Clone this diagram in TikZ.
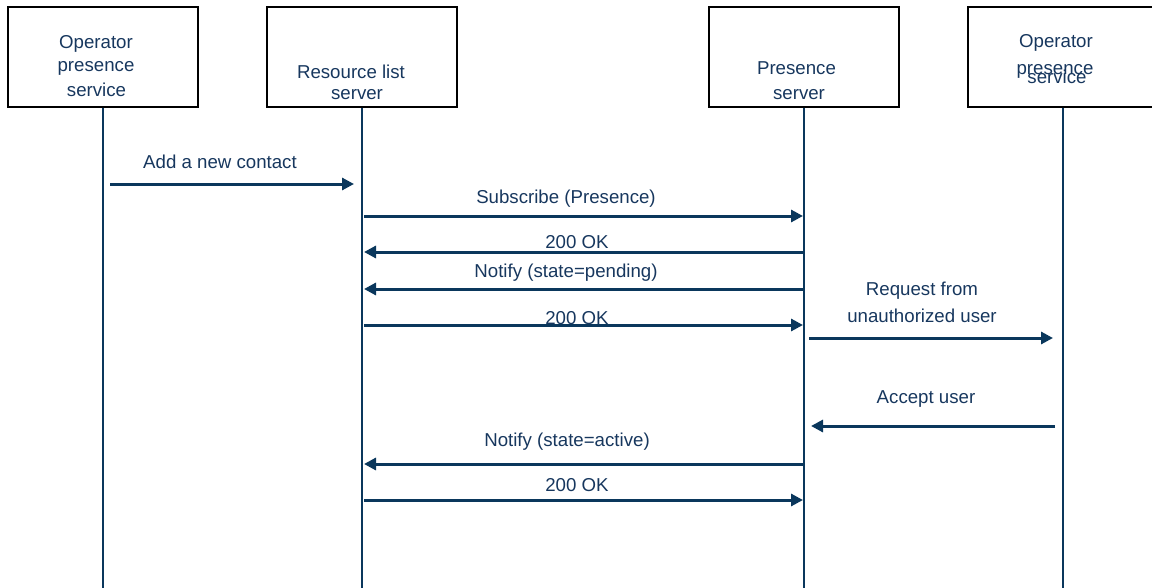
\documentclass[tikz,border=0pt]{standalone}
\usepackage{fontspec}
\setmainfont{Liberation Sans}
\usetikzlibrary{arrows.meta}
\definecolor{ink}{RGB}{23,55,94}
\definecolor{arrowink}{RGB}{10,55,92}
\tikzset{
  actorbox/.style={draw=black, line width=1pt, minimum width=142.5pt, minimum height=75pt, inner sep=0pt},
  lbl/.style={text=ink, font=\fontsize{14}{16}\selectfont, inner sep=0pt, anchor=base},
  msgarrow/.style={draw=arrowink, line width=2.25pt, -{Triangle[length=9pt,width=9pt]}},
  lifeline/.style={draw=arrowink, line width=1pt}
}
\begin{document}
\begin{tikzpicture}[x=0.75pt,y=-0.75pt]
\useasboundingbox (0,0) rectangle (1152,588);
\clip (0,0) rectangle (1152,588);
% actor boxes
\node[actorbox] (b1) at (103,57) {};
\node[actorbox] (b2) at (362,57) {};
\node[actorbox] (b3) at (804,57) {};
\node[actorbox] (b4) at (1063,57) {};
% box texts
\node[lbl] (t1a) at (96,49) {Operator};
\node[lbl] (t1b) at (96,72) {presence};
\node[lbl] (t1c) at (96.5,97) {service};
\node[lbl] (t2a) at (351,79) {Resource list};
\node[lbl] (t2b) at (357,100) {server};
\node[lbl] (t3a) at (796.5,75) {Presence};
\node[lbl] (t3b) at (799,100) {server};
\node[lbl] (t4a) at (1056,47.5) {Operator};
\node[lbl] (t4b) at (1055,75) {presence};
\node[lbl] (t4c) at (1057,83.5) {service};
% lifeline ends
\coordinate (e1) at (103,588);
\coordinate (e2) at (362,588);
\coordinate (e3) at (804,588);
\coordinate (e4) at (1063,588);
\draw[lifeline] (b1.south) -- (e1);
\draw[lifeline] (b2.south) -- (e2);
\draw[lifeline] (b3.south) -- (e3);
\draw[lifeline] (b4.south) -- (e4);
% message end points
\coordinate (m1s) at (110,184);  \coordinate (m1e) at (354,184);
\coordinate (m2s) at (364,216);  \coordinate (m2e) at (803,216);
\coordinate (m3s) at (804,252);  \coordinate (m3e) at (364,252);
\coordinate (m4s) at (804,289);  \coordinate (m4e) at (364,289);
\coordinate (m5s) at (364,325);  \coordinate (m5e) at (803,325);
\coordinate (m6s) at (809,338);  \coordinate (m6e) at (1053,338);
\coordinate (m7s) at (1055,426); \coordinate (m7e) at (811,426);
\coordinate (m8s) at (804,464);  \coordinate (m8e) at (364,464);
\coordinate (m9s) at (364,500);  \coordinate (m9e) at (803,500);
\draw[msgarrow] (m1s) -- (m1e);
\draw[msgarrow] (m2s) -- (m2e);
\draw[msgarrow] (m3s) -- (m3e);
\draw[msgarrow] (m4s) -- (m4e);
\draw[msgarrow] (m5s) -- (m5e);
\draw[msgarrow] (m6s) -- (m6e);
\draw[msgarrow] (m7s) -- (m7e);
\draw[msgarrow] (m8s) -- (m8e);
\draw[msgarrow] (m9s) -- (m9e);
% message labels
\node[lbl] (l1) at (220,168) {Add a new contact};
\node[lbl] (l2) at (566,204) {Subscribe (Presence)};
\node[lbl] (l3) at (577,248) {200 OK};
\node[lbl] (l4) at (566,277) {Notify (state=pending)};
\node[lbl] (l5) at (577,324) {200 OK};
\node[lbl] (l6a) at (922,295) {Request from};
\node[lbl] (l6b) at (922,322.5) {unauthorized user};
\node[lbl] (l7) at (926,403) {Accept user};
\node[lbl] (l8) at (567,446) {Notify (state=active)};
\node[lbl] (l9) at (577,491) {200 OK};
\end{tikzpicture}
\end{document}
